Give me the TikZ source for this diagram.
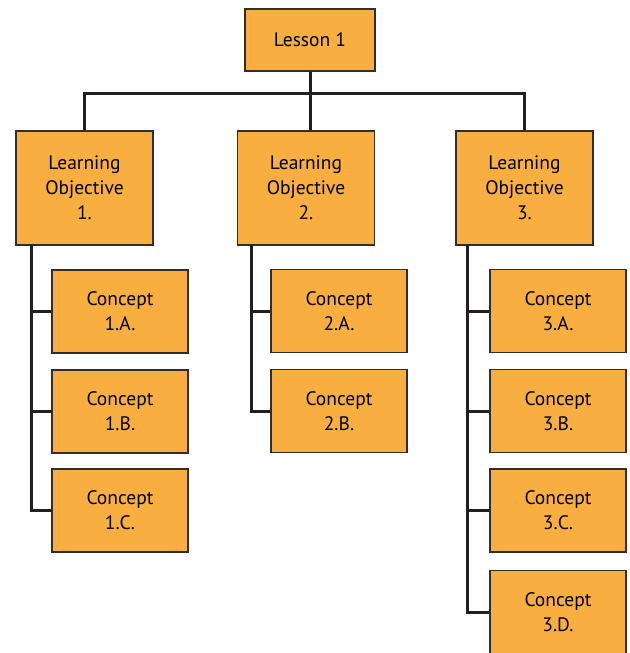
\documentclass[tikz,border=0pt]{standalone}
\usepackage{fontspec}
\setmainfont{PT Sans}
\definecolor{boxfill}{RGB}{249,174,64}
\definecolor{boxline}{RGB}{50,45,45}
\definecolor{wire}{RGB}{35,31,32}

\begin{document}
\begin{tikzpicture}[x=1pt,y=-1pt,
  box/.style={draw=boxline, line width=1.2pt, fill=boxfill, align=center,
    font=\fontsize{19.5}{25}\selectfont, inner sep=0pt},
  lesson/.style={box, minimum width=130pt, minimum height=62pt},
  objective/.style={box, minimum width=137pt, minimum height=114pt},
  concept/.style={box, minimum width=136pt, minimum height=83pt},
  wire/.style={draw=wire, line width=3pt}]

\clip (0,0) rectangle (629,653);
\useasboundingbox (0,0) rectangle (629,653);

% Top of the tree
\node [lesson] (lesson) at (310,40) {Lesson 1};

% Learning objectives
\node [objective] (lo1) at (84.5,188) {Learning\\Objective\\1.};
\node [objective] (lo2) at (306,188) {Learning\\Objective\\2.};
\node [objective] (lo3) at (524.5,188) {Learning\\Objective\\3.};

% Concepts
\foreach \n/\y in {A/311.5, B/411.5, C/510.5}
  \node [concept] (c1\n) at (120,\y) {Concept\\1.\n.};
\foreach \n/\y in {A/311, B/411}
  \node [concept] (c2\n) at (339,\y) {Concept\\2.\n.};
\foreach \n/\y in {A/311, B/411, C/510.5, D/612}
  \node [concept] (c3\n) at (558,\y) {Concept\\3.\n.};

% Bus from the lesson to the objectives
\coordinate (bus) at (310,93);
\draw [wire] (lesson.south) -- (lesson.south |- lo2.north);
\draw [wire] (lo1.north) |- (bus) -| (lo3.north);

% Drops from each objective to its concepts
\coordinate (d1) at (31,245);
\coordinate (d2) at (251,245);
\coordinate (d3) at (467,245);
\draw [wire] (d1) |- (c1C.west);
\draw [wire] (d1 |- c1A.west) -- (c1A.west);
\draw [wire] (d1 |- c1B.west) -- (c1B.west);
\draw [wire] (d2) |- (c2B.west);
\draw [wire] (d2 |- c2A.west) -- (c2A.west);
\draw [wire] (d3) |- (c3D.west);
\foreach \n in {A, B, C}
  \draw [wire] (d3 |- c3\n.west) -- (c3\n.west);

\end{tikzpicture}
\end{document}
